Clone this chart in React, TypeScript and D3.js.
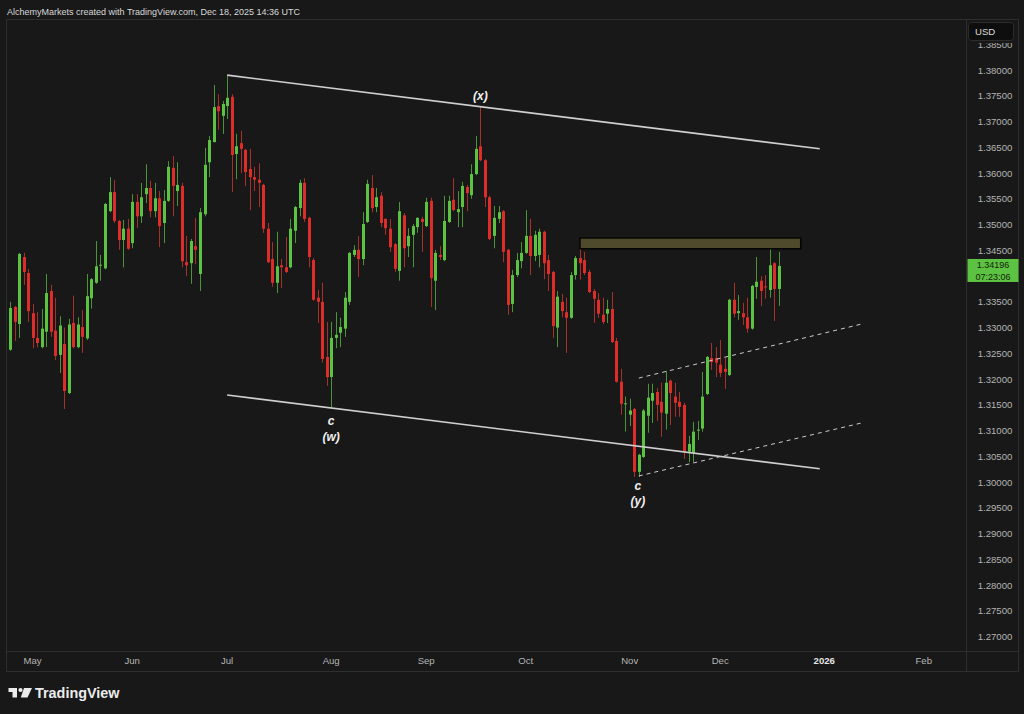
import React from "react";
import * as d3 from "d3";

// Daily candles, Apr 24 2025 .. Dec 18 2025: [open, high, low, close]
const ohlc: [number, number, number, number][] = [
  [1.3257,1.3350,1.3255,1.3338],[1.3340,1.3342,1.3274,1.3311],[1.3307,1.3445,1.3280,1.3443],[1.3437,1.3445,1.3383,1.3408],
  [1.3406,1.3414,1.3311,1.3332],[1.3328,1.3346,1.3260,1.3280],[1.3280,1.3330,1.3262,1.3270],[1.3262,1.3336,1.3260,1.3298],
  [1.3292,1.3404,1.3262,1.3367],[1.3371,1.3383,1.3282,1.3292],[1.3294,1.3358,1.3237,1.3245],[1.3247,1.3322,1.3212,1.3304],
  [1.3268,1.3300,1.3142,1.3177],[1.3173,1.3317,1.3171,1.3306],[1.3309,1.3362,1.3260,1.3262],[1.3262,1.3320,1.3260,1.3306],
  [1.3301,1.3334,1.3251,1.3282],[1.3279,1.3404,1.3276,1.3361],[1.3357,1.3396,1.3337,1.3394],[1.3387,1.3468,1.3385,1.3419],
  [1.3420,1.3441,1.3391,1.3422],[1.3415,1.3542,1.3413,1.3540],[1.3526,1.3592,1.3524,1.3563],[1.3563,1.3587,1.3503,1.3507],
  [1.3507,1.3509,1.3451,1.3470],[1.3470,1.3509,1.3417,1.3492],[1.3492,1.3511,1.3451,1.3453],[1.3464,1.3559,1.3454,1.3544],
  [1.3544,1.3559,1.3493,1.3516],[1.3516,1.3581,1.3503,1.3553],[1.3559,1.3617,1.3542,1.3571],[1.3571,1.3585,1.3514,1.3526],
  [1.3526,1.3581,1.3514,1.3551],[1.3551,1.3565,1.3456,1.3497],[1.3503,1.3567,1.3464,1.3546],[1.3546,1.3623,1.3544,1.3612],
  [1.3610,1.3633,1.3516,1.3575],[1.3565,1.3621,1.3536,1.3577],[1.3575,1.3581,1.3417,1.3429],[1.3427,1.3478,1.3400,1.3421],
  [1.3425,1.3472,1.3385,1.3468],[1.3458,1.3513,1.3423,1.3451],[1.3404,1.3532,1.3371,1.3524],[1.3520,1.3649,1.3516,1.3616],
  [1.3621,1.3672,1.3592,1.3664],[1.3660,1.3771,1.3660,1.3728],[1.3730,1.3753,1.3684,1.3720],[1.3711,1.3740,1.3676,1.3734],
  [1.3730,1.3790,1.3705,1.3746],[1.3748,1.3753,1.3563,1.3635],[1.3637,1.3676,1.3588,1.3652],[1.3658,1.3682,1.3600,1.3647],
  [1.3645,1.3647,1.3575,1.3602],[1.3608,1.3647,1.3528,1.3592],[1.3592,1.3612,1.3565,1.3587],[1.3587,1.3619,1.3534,1.3581],
  [1.3577,1.3579,1.3484,1.3492],[1.3492,1.3503,1.3425,1.3427],[1.3433,1.3466,1.3379,1.3387],[1.3387,1.3486,1.3367,1.3419],
  [1.3421,1.3433,1.3377,1.3417],[1.3417,1.3476,1.3406,1.3408],[1.3417,1.3511,1.3415,1.3492],[1.3488,1.3536,1.3464,1.3534],
  [1.3532,1.3587,1.3516,1.3581],[1.3581,1.3590,1.3505,1.3511],[1.3513,1.3515,1.3417,1.3437],[1.3431,1.3435,1.3352,1.3354],
  [1.3358,1.3373,1.3309,1.3350],[1.3350,1.3387,1.3232,1.3239],[1.3243,1.3311,1.3187,1.3204],[1.3204,1.3311,1.3144,1.3280],
  [1.3280,1.3330,1.3260,1.3286],[1.3290,1.3319,1.3262,1.3301],[1.3298,1.3369,1.3282,1.3358],[1.3350,1.3447,1.3344,1.3445],
  [1.3441,1.3460,1.3437,1.3451],[1.3451,1.3478,1.3398,1.3433],[1.3433,1.3524,1.3421,1.3501],[1.3505,1.3587,1.3503,1.3579],
  [1.3571,1.3596,1.3524,1.3532],[1.3534,1.3571,1.3524,1.3553],[1.3556,1.3563,1.3495,1.3503],[1.3511,1.3512,1.3480,1.3493],
  [1.3492,1.3511,1.3447,1.3456],[1.3462,1.3464,1.3408,1.3414],[1.3410,1.3544,1.3391,1.3526],[1.3518,1.3522,1.3417,1.3454],
  [1.3458,1.3493,1.3437,1.3478],[1.3480,1.3501,1.3417,1.3497],[1.3495,1.3514,1.3484,1.3513],[1.3511,1.3515,1.3447,1.3505],
  [1.3497,1.3552,1.3495,1.3544],[1.3546,1.3552,1.3340,1.3396],[1.3391,1.3451,1.3334,1.3445],[1.3441,1.3458,1.3431,1.3437],
  [1.3431,1.3556,1.3429,1.3507],[1.3505,1.3556,1.3503,1.3546],[1.3548,1.3590,1.3526,1.3528],[1.3524,1.3565,1.3495,1.3530],
  [1.3534,1.3583,1.3495,1.3575],[1.3573,1.3577,1.3526,1.3561],[1.3557,1.3617,1.3550,1.3598],[1.3598,1.3672,1.3596,1.3647],
  [1.3652,1.3728,1.3623,1.3625],[1.3625,1.3627,1.3534,1.3553],[1.3553,1.3556,1.3470,1.3472],[1.3478,1.3536,1.3454,1.3513],
  [1.3511,1.3536,1.3503,1.3524],[1.3526,1.3528,1.3427,1.3447],[1.3451,1.3453,1.3325,1.3344],[1.3346,1.3412,1.3330,1.3402],
  [1.3402,1.3445,1.3398,1.3431],[1.3429,1.3466,1.3415,1.3445],[1.3445,1.3528,1.3443,1.3478],[1.3478,1.3511,1.3402,1.3439],
  [1.3439,1.3488,1.3429,1.3480],[1.3441,1.3492,1.3417,1.3486],[1.3486,1.3488,1.3394,1.3425],[1.3431,1.3441,1.3371,1.3404],
  [1.3408,1.3410,1.3280,1.3303],[1.3300,1.3371,1.3262,1.3360],[1.3350,1.3365,1.3320,1.3332],[1.3330,1.3358,1.3251,1.3319],
  [1.3319,1.3408,1.3317,1.3402],[1.3402,1.3439,1.3393,1.3435],[1.3435,1.3474,1.3393,1.3425],[1.3431,1.3447,1.3402,1.3406],
  [1.3408,1.3412,1.3367,1.3369],[1.3371,1.3375,1.3309,1.3356],[1.3354,1.3367,1.3319,1.3327],[1.3325,1.3358,1.3307,1.3311],
  [1.3327,1.3354,1.3309,1.3336],[1.3336,1.3369,1.3270,1.3272],[1.3274,1.3280,1.3193,1.3195],[1.3195,1.3220,1.3131,1.3152],
  [1.3151,1.3166,1.3098,1.3153],[1.3131,1.3162,1.3109,1.3139],[1.3142,1.3144,1.3010,1.3020],[1.3020,1.3055,1.3010,1.3053],
  [1.3049,1.3142,1.3047,1.3139],[1.3129,1.3191,1.3096,1.3164],[1.3158,1.3191,1.3115,1.3173],[1.3175,1.3183,1.3119,1.3150],
  [1.3156,1.3193,1.3088,1.3135],[1.3133,1.3216,1.3102,1.3193],[1.3197,1.3199,1.3111,1.3173],[1.3166,1.3193,1.3127,1.3154],
  [1.3156,1.3175,1.3127,1.3146],[1.3150,1.3154,1.3045,1.3059],[1.3059,1.3090,1.3039,1.3074],[1.3057,1.3117,1.3039,1.3098],
  [1.3100,1.3119,1.3082,1.3102],[1.3104,1.3214,1.3098,1.3166],[1.3171,1.3245,1.3169,1.3243],[1.3241,1.3270,1.3218,1.3233],
  [1.3241,1.3262,1.3204,1.3232],[1.3228,1.3276,1.3204,1.3212],[1.3220,1.3241,1.3181,1.3214],[1.3208,1.3356,1.3206,1.3354],
  [1.3354,1.3387,1.3320,1.3327],[1.3328,1.3363,1.3315,1.3332],[1.3328,1.3348,1.3305,1.3320],[1.3320,1.3358,1.3290,1.3298],
  [1.3298,1.3383,1.3296,1.3381],[1.3379,1.3437,1.3356,1.3389],[1.3391,1.3400,1.3342,1.3371],[1.3380,1.3402,1.3356,1.3378],
  [1.3373,1.3456,1.3358,1.3421],[1.3425,1.3427,1.3313,1.3375],[1.3375,1.3447,1.3342,1.34196],
];

const priceTicks = [
  1.27, 1.275, 1.28, 1.285, 1.29, 1.295, 1.3, 1.305, 1.31, 1.315, 1.32, 1.325,
  1.33, 1.335, 1.34, 1.345, 1.35, 1.355, 1.36, 1.365, 1.37, 1.375, 1.38, 1.385,
];

const monthLabels = ["May", "Jun", "Jul", "Aug", "Sep", "Oct", "Nov", "Dec", "2026", "Feb"];
const monthStarts = [
  "2025-05-01", "2025-06-01", "2025-07-01", "2025-08-01", "2025-09-01", "2025-10-01",
  "2025-11-01", "2025-12-01", "2026-01-01", "2026-02-01",
];

// Drawings (bar index, price)
const channelUpper: [number, number][] = [[48, 1.379], [179, 1.3647]];
const channelLower: [number, number][] = [[48, 1.3169], [179, 1.3026]];
const dashUpper: [number, number][] = [[139, 1.3202], [188.3, 1.3307]];
const dashLower: [number, number][] = [[139, 1.3012], [188.3, 1.3115]];
const zoneBar = { from: 126, to: 174.8, top: 1.3474, bottom: 1.3453 };
const waveLabels = [
  { idx: 71, price: 1.3111, text: "c" },
  { idx: 71, price: 1.3080, text: "(w)" },
  { idx: 104, price: 1.3742, text: "(x)" },
  { idx: 138.8, price: 1.2985, text: "c" },
  { idx: 138.8, price: 1.2956, text: "(y)" },
];

const lastPrice = 1.34196;
const countdown = "07:23:06";

const START = Date.UTC(2025, 3, 24);
function tradingDays(n: number): Date[] {
  const out: Date[] = [];
  let t = START;
  while (out.length < n) {
    const d = new Date(t);
    const w = d.getUTCDay();
    if (w !== 0 && w !== 6) out.push(d);
    t += 86400000;
  }
  return out;
}

const W = 1024;
const H = 714;
const PANE_L = 6.5;
const PANE_R = 966.5;
const PANE_T = 19.5;
const PANE_B = 651.5;
const AXIS_B = 671.5;
const OUTER_R = 1018.5;

const UP = "#5cc241";
const DOWN = "#dc2d28";
const UP_WICK = "#4a9535";
const DOWN_WICK = "#a8302b";
const BG = "#181818";
const FRAME = "#2e2e2e";
const AXIS_TXT = "#b4b4b4";
const FONT = "'Liberation Sans', Arial, sans-serif";

export default function App() {
  const days = tradingDays(240);
  const x = d3.scaleLinear().domain([0, 170]).range([10, 779]);
  const y = d3.scaleLinear().domain([1.27, 1.38]).range([636.7, 70]);
  const fmt = d3.format(".5f");

  const monthIdx = monthStarts.map((s) => {
    const t = Date.parse(s + "T00:00:00Z");
    return days.findIndex((d) => d.getTime() >= t);
  });

  const line = d3
    .line<[number, number]>()
    .x((d) => x(d[0]))
    .y((d) => y(d[1]));

  const yLast = y(lastPrice);
  // tick labels hidden behind the last-price badge are not drawn
  const visibleTicks = priceTicks.filter((p) => {
    const yy = y(p);
    return yy < yLast - 14 || yy > yLast + 22;
  });

  return (
    <div style={{ position: "fixed", left: 0, top: 0, width: W, height: H, background: BG }}>
      <svg width={W} height={H} style={{ display: "block", fontFamily: FONT }}>
        <defs>
          <clipPath id="pane">
            <rect x={PANE_L} y={PANE_T} width={PANE_R - PANE_L} height={PANE_B - PANE_T} />
          </clipPath>
          <clipPath id="axis">
            <rect x={PANE_R} y={43} width={OUTER_R - PANE_R} height={PANE_B - 43} />
          </clipPath>
        </defs>
        <rect x={0} y={0} width={W} height={H} fill={BG} />

        <text x={7} y={14.5} fontSize={9} fill="#d8d8d8">
          AlchemyMarkets created with TradingView.com, Dec 18, 2025 14:36 UTC
        </text>

        {/* frame */}
        <rect x={PANE_L} y={PANE_T} width={OUTER_R - PANE_L} height={AXIS_B - PANE_T} fill="none" stroke={FRAME} />
        <line x1={PANE_L} x2={OUTER_R} y1={PANE_B} y2={PANE_B} stroke={FRAME} />
        <line x1={PANE_R} x2={PANE_R} y1={PANE_T} y2={AXIS_B} stroke={FRAME} />

        <g clipPath="url(#pane)">
          {ohlc.map(([o, h, l, c], i) => {
            const cx = Math.round(x(i));
            const up = c >= o;
            const top = y(Math.max(o, c));
            const bot = y(Math.min(o, c));
            return (
              <g key={i}>
                <rect x={cx} y={y(h)} width={1} height={Math.max(1, y(l) - y(h))} fill={up ? UP_WICK : DOWN_WICK} />
                <rect x={cx - 1} y={top} width={3} height={Math.max(1, bot - top)} fill={up ? UP : DOWN} />
              </g>
            );
          })}

          <rect
            x={x(zoneBar.from)}
            y={y(zoneBar.top)}
            width={x(zoneBar.to) - x(zoneBar.from)}
            height={y(zoneBar.bottom) - y(zoneBar.top)}
            fill="#4f4a2c"
            stroke="#050505"
            strokeWidth={1.5}
          />

          <path d={line(channelUpper) || ""} stroke="#cfcfcf" strokeWidth={1.6} fill="none" />
          <path d={line(channelLower) || ""} stroke="#cfcfcf" strokeWidth={1.6} fill="none" />
          <path d={line(dashUpper) || ""} stroke="#cccccc" strokeWidth={1} strokeDasharray="4 4" fill="none" />
          <path d={line(dashLower) || ""} stroke="#cccccc" strokeWidth={1} strokeDasharray="4 4" fill="none" />

          {waveLabels.map((w, i) => (
            <text
              key={i}
              x={x(w.idx)}
              y={y(w.price)}
              textAnchor="middle"
              fontSize={12}
              fontWeight="bold"
              fontStyle="italic"
              fill="#f0f0f0"
            >
              {w.text}
            </text>
          ))}
        </g>

        <g clipPath="url(#axis)">
          {visibleTicks.map((p) => (
            <text key={p} x={995} y={y(p) + 3.5} textAnchor="middle" fontSize={9.6} fill={AXIS_TXT}>
              {fmt(p)}
            </text>
          ))}
          <rect x={967.5} y={yLast - 7} width={52} height={23} fill={UP} />
          <text x={993} y={yLast + 2.5} textAnchor="middle" fontSize={9} fill="#17230f">
            {fmt(lastPrice)}
          </text>
          <text x={993} y={yLast + 13.8} textAnchor="middle" fontSize={9} fill="#17230f">
            {countdown}
          </text>
        </g>
        <rect x={968.5} y={22.5} width={45} height={18} rx={3} fill="#0e0e0e" stroke="#2c2c2c" />
        <text x={975} y={35} fontSize={9.6} fill="#dcdcdc">
          USD
        </text>

        {monthLabels.map((m, i) => (
          <text
            key={m}
            x={x(monthIdx[i])}
            y={664}
            textAnchor="middle"
            fontSize={9.6}
            fontWeight={m === "2026" ? "bold" : "normal"}
            fill={m === "2026" ? "#e6e6e6" : AXIS_TXT}
          >
            {m}
          </text>
        ))}

        <g fill="#ececec">
          <rect x={8.5} y={688} width={8.5} height={4} />
          <rect x={12.5} y={688} width={4.5} height={9.5} />
          <circle cx={20.5} cy={690} r={2.1} />
          <path d="M24,688 L32,688 L27.5,697.5 L20.8,697.5 Z" />
        </g>
        <text x={35} y={697.5} fontSize={14.4} fontWeight="bold" fill="#ececec">
          TradingView
        </text>
      </svg>
    </div>
  );
}
